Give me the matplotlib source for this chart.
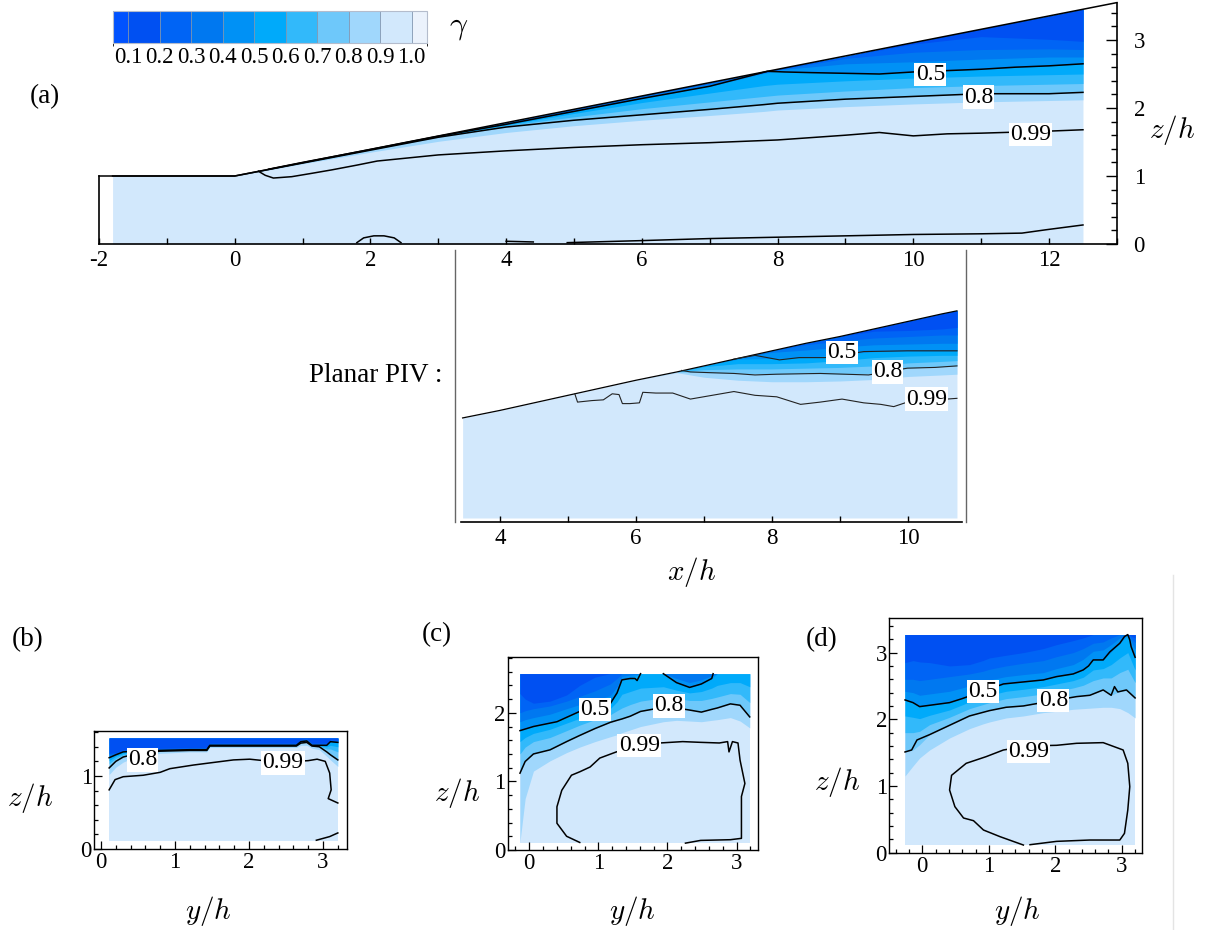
import numpy as np
import matplotlib
matplotlib.use("Agg")
import matplotlib.pyplot as plt
from matplotlib.colors import ListedColormap, BoundaryNorm
from matplotlib.cm import ScalarMappable
from matplotlib.ticker import MultipleLocator
from matplotlib.lines import Line2D

plt.rcParams['font.family'] = ['Liberation Serif', 'DejaVu Serif']
plt.rcParams['mathtext.fontset'] = 'cm'
plt.rcParams['axes.unicode_minus'] = False

W, H = 1205, 930

# colour scale of gamma
LEVELS = [0.05, 0.1, 0.2, 0.3, 0.4, 0.5, 0.6, 0.7, 0.8, 0.9, 1.0, 1.05]
COLORS = ['#0052ff', '#0050f2', '#0064f5', '#0078f0', '#0091f5', '#00aafa',
          '#32b9fa', '#6ec8fa', '#a0d7fc', '#d2e8fc', '#ebf2fc']
CB_TICKS = [0.1, 0.2, 0.3, 0.4, 0.5, 0.6, 0.7, 0.8, 0.9, 1.0]

# ---- panel (a): centre plane, heights of the gamma = 0.2 ... 0.9 isolines
A_X = [-1.8, 0.0, 0.5, 1.0, 2.0, 3.0, 4.0, 5.0, 6.0, 7.0, 7.8, 8.0, 9.0, 10.0, 11.0, 12.0, 12.5]
A_TOP = [1.00, 1.00, 1.10, 1.20, 1.39, 1.59, 1.78, 1.98, 2.18, 2.37, 2.53, 2.57, 2.76, 2.96, 3.16, 3.35, 3.45]
A_G20 = [1.00, 1.00, 1.10, 1.20, 1.39, 1.59, 1.78, 1.98, 2.18, 2.37, 2.53, 2.57, 2.76, 2.94, 3.05, 3.01, 2.98]
A_G30 = [1.00, 1.00, 1.10, 1.20, 1.39, 1.59, 1.77, 1.97, 2.17, 2.36, 2.52, 2.56, 2.73, 2.82, 2.86, 2.87, 2.86]
A_G40 = [1.00, 1.00, 1.10, 1.20, 1.39, 1.59, 1.765, 1.96, 2.16, 2.35, 2.52, 2.56, 2.65, 2.68, 2.72, 2.75, 2.75]
A_G50 = [1.00, 1.00, 1.10, 1.20, 1.39, 1.585, 1.76, 1.95, 2.14, 2.32, 2.51, 2.54, 2.51, 2.53, 2.57, 2.62, 2.65]
A_G60 = [1.00, 1.00, 1.10, 1.20, 1.39, 1.58, 1.75, 1.92, 2.08, 2.22, 2.33, 2.35, 2.40, 2.44, 2.47, 2.49, 2.50]
A_G70 = [1.00, 1.00, 1.10, 1.20, 1.385, 1.575, 1.74, 1.87, 1.99, 2.09, 2.17, 2.19, 2.25, 2.30, 2.33, 2.35, 2.36]
A_G80 = [1.00, 1.00, 1.095, 1.19, 1.38, 1.57, 1.72, 1.82, 1.90, 1.98, 2.05, 2.07, 2.13, 2.17, 2.21, 2.21, 2.23]
A_G90 = [1.00, 1.00, 1.09, 1.18, 1.35, 1.51, 1.64, 1.74, 1.82, 1.89, 1.95, 1.97, 2.02, 2.06, 2.09, 2.11, 2.12]
A_SURF_X = [-2.0, 0.0, 13.0]
A_SURF_Z = [1.0, 1.0, 3.55]
A05_X = [0.5, 1.0, 2.0, 3.0, 4.0, 5.0, 6.0, 7.0, 7.7, 7.85, 8.1, 8.5, 9.0, 9.5, 10.0, 10.5, 11.0, 11.5, 12.0, 12.5]
A05_Z = [1.10, 1.20, 1.39, 1.585, 1.76, 1.95, 2.14, 2.32, 2.50, 2.54, 2.53, 2.52, 2.51, 2.50, 2.53, 2.55, 2.57, 2.60, 2.62, 2.65]
A99_X = [0.35, 0.45, 0.57, 0.84, 1.14, 1.43, 1.8, 2.1, 3.0, 4.0, 5.0, 6.0, 7.0, 8.0, 9.0, 9.5, 10.0, 10.5, 11.0, 12.0, 12.5]
A99_Z = [1.07, 1.01, 0.97, 0.99, 1.04, 1.09, 1.16, 1.22, 1.31, 1.37, 1.42, 1.46, 1.49, 1.53, 1.60, 1.64, 1.59, 1.62, 1.63, 1.66, 1.68]
AB1_X = [1.8, 1.9, 2.05, 2.2, 2.35, 2.45]
AB1_Z = [0.02, 0.09, 0.12, 0.12, 0.09, 0.02]
AB2_X = [4.0, 4.4]
AB2_Z = [0.04, 0.03]
AB3_X = [4.9, 6.0, 7.0, 8.0, 9.0, 9.5, 10.0, 11.0, 11.6, 11.96, 12.5]
AB3_Z = [0.02, 0.05, 0.08, 0.10, 0.12, 0.13, 0.14, 0.15, 0.16, 0.21, 0.28]
A_TAGS = [(10.25, 2.49, '0.5'), (10.96, 2.16, '0.8'), (11.73, 1.61, '0.99')]

# ---- planar PIV
P_X = [3.45, 4.0, 5.0, 6.0, 6.6, 7.0, 7.5, 8.0, 8.5, 9.0, 9.5, 10.0, 10.5, 10.72]
P_TOP = [1.68, 1.78, 1.98, 2.18, 2.29, 2.37, 2.47, 2.57, 2.67, 2.76, 2.86, 2.96, 3.06, 3.10]
P_G20 = [1.68, 1.78, 1.98, 2.18, 2.29, 2.37, 2.47, 2.57, 2.67, 2.76, 2.83, 2.84, 2.86, 2.88]
P_G30 = [1.68, 1.78, 1.98, 2.18, 2.29, 2.37, 2.47, 2.57, 2.65, 2.70, 2.74, 2.76, 2.78, 2.78]
P_G40 = [1.68, 1.78, 1.98, 2.18, 2.29, 2.37, 2.47, 2.55, 2.58, 2.62, 2.65, 2.66, 2.67, 2.67]
P_G50 = [1.68, 1.78, 1.98, 2.18, 2.29, 2.37, 2.46, 2.47, 2.48, 2.52, 2.56, 2.57, 2.57, 2.57]
P_G60 = [1.68, 1.78, 1.98, 2.18, 2.29, 2.36, 2.40, 2.40, 2.41, 2.44, 2.48, 2.50, 2.51, 2.51]
P_G70 = [1.68, 1.78, 1.98, 2.18, 2.29, 2.32, 2.33, 2.33, 2.34, 2.35, 2.37, 2.41, 2.43, 2.44]
P_G80 = [1.68, 1.78, 1.98, 2.18, 2.29, 2.28, 2.27, 2.26, 2.27, 2.26, 2.26, 2.34, 2.36, 2.37]
P_G90 = [1.68, 1.78, 1.98, 2.18, 2.28, 2.22, 2.18, 2.16, 2.16, 2.17, 2.19, 2.23, 2.25, 2.26]
P05_X = [7.44, 7.75, 8.11, 8.40, 8.78, 9.35, 9.99, 10.72]
P05_Z = [2.46, 2.51, 2.45, 2.48, 2.48, 2.56, 2.57, 2.57]
P08_X = [6.67, 6.80, 7.10, 7.44, 7.75, 8.07, 8.71, 9.42, 9.99, 10.40, 10.72]
P08_Z = [2.31, 2.29, 2.28, 2.27, 2.25, 2.26, 2.27, 2.25, 2.34, 2.35, 2.37]
P99_X = [5.10, 5.14, 5.35, 5.52, 5.65, 5.75, 5.80, 5.91, 6.05, 6.10, 6.29, 6.54, 6.80, 7.12,
         7.44, 7.75, 8.07, 8.42, 8.71, 9.03, 9.35, 9.60, 9.79, 9.99, 10.72]
P99_Z = [2.00, 1.89, 1.91, 1.92, 2.00, 1.99, 1.87, 1.87, 1.88, 2.02, 2.01, 2.01, 1.93, 1.98,
         2.03, 1.98, 1.96, 1.86, 1.89, 1.93, 1.88, 1.86, 1.83, 1.89, 1.94]
P_TAGS = [(9.03, 2.545, '0.5'), (9.70, 2.29, '0.8'), (10.27, 1.93, '0.99')]

# ---- panel (b)
B_X = [0.11, 0.20, 0.30, 0.46, 0.80, 1.20, 1.43, 1.47, 2.00, 2.50, 2.64, 2.70, 2.78, 2.85, 2.95, 3.05, 3.10, 3.20]
B_G20 = [1.31, 1.32, 1.36, 1.37, 1.38, 1.39, 1.39, 1.45, 1.45, 1.45, 1.45, 1.50, 1.51, 1.45, 1.45, 1.45, 1.50, 1.49]
B_G30 = [1.29, 1.31, 1.35, 1.36, 1.37, 1.38, 1.38, 1.44, 1.44, 1.44, 1.44, 1.49, 1.50, 1.44, 1.44, 1.44, 1.49, 1.48]
B_G40 = [1.27, 1.30, 1.34, 1.35, 1.36, 1.37, 1.37, 1.43, 1.43, 1.43, 1.43, 1.48, 1.49, 1.43, 1.43, 1.43, 1.48, 1.47]
B_G50 = [1.25, 1.29, 1.33, 1.34, 1.35, 1.36, 1.36, 1.42, 1.42, 1.42, 1.42, 1.47, 1.48, 1.42, 1.42, 1.42, 1.47, 1.46]
B_G60 = [1.21, 1.27, 1.31, 1.33, 1.347, 1.357, 1.357, 1.418, 1.418, 1.418, 1.418, 1.465, 1.475, 1.418, 1.415, 1.40, 1.42, 1.40]
B_G70 = [1.17, 1.24, 1.29, 1.32, 1.345, 1.355, 1.355, 1.415, 1.415, 1.415, 1.415, 1.46, 1.47, 1.415, 1.41, 1.37, 1.37, 1.33]
B_G80 = [1.11, 1.20, 1.26, 1.30, 1.34, 1.35, 1.35, 1.41, 1.41, 1.41, 1.41, 1.45, 1.46, 1.41, 1.40, 1.33, 1.29, 1.22]
B_G90 = [1.02, 1.12, 1.19, 1.26, 1.31, 1.33, 1.33, 1.39, 1.39, 1.39, 1.39, 1.42, 1.42, 1.38, 1.36, 1.27, 1.22, 1.13]
B99_X = [0.11, 0.19, 0.30, 0.57, 0.80, 0.93, 1.25, 1.48, 1.79, 2.01, 2.20, 2.46, 2.80, 2.92, 3.03, 3.09, 3.11, 3.07, 3.20]
B99_Z = [0.81, 0.95, 0.99, 1.01, 1.05, 1.10, 1.15, 1.18, 1.22, 1.23, 1.21, 1.19, 1.21, 1.23, 1.20, 1.04, 0.81, 0.69, 0.63]
BB_X = [2.91, 3.09, 3.20]
BB_Z = [0.12, 0.17, 0.22]
B_TAGS = [(0.56, 1.22, '0.8'), (2.46, 1.18, '0.99')]

# ---- panel (c)
C_X = [-0.135, -0.06, 0.06, 0.30, 0.54, 0.73, 0.95, 1.17, 1.27, 1.34, 1.46, 1.61, 1.94, 2.13,
       2.32, 2.49, 2.64, 2.72, 2.91, 3.05, 3.19]
C_G20 = [2.28, 2.20, 2.14, 2.17, 2.26, 2.40, 2.52, 2.57, 2.57, 2.57, 2.57, 2.57, 2.57, 2.57,
         2.57, 2.57, 2.57, 2.57, 2.57, 2.57, 2.57]
C_G30 = [2.00, 2.03, 2.06, 2.10, 2.17, 2.24, 2.32, 2.42, 2.50, 2.57, 2.57, 2.57, 2.57, 2.57,
         2.57, 2.57, 2.57, 2.57, 2.57, 2.57, 2.57]
C_G40 = [1.87, 1.90, 1.93, 1.98, 2.06, 2.12, 2.18, 2.25, 2.38, 2.53, 2.55, 2.57, 2.57, 2.50,
         2.44, 2.48, 2.54, 2.57, 2.57, 2.57, 2.57]
C_G50 = [1.74, 1.77, 1.80, 1.86, 1.95, 2.02, 2.07, 2.13, 2.29, 2.48, 2.50, 2.57, 2.57, 2.44,
         2.37, 2.42, 2.50, 2.57, 2.57, 2.57, 2.57]
C_G60 = [1.58, 1.64, 1.70, 1.76, 1.85, 1.92, 1.99, 2.06, 2.16, 2.27, 2.31, 2.36, 2.38, 2.33,
         2.29, 2.31, 2.36, 2.40, 2.44, 2.44, 2.38]
C_G70 = [1.40, 1.50, 1.58, 1.64, 1.74, 1.82, 1.90, 1.97, 2.03, 2.07, 2.12, 2.17, 2.22, 2.21,
         2.18, 2.18, 2.21, 2.23, 2.28, 2.27, 2.15]
C_G80 = [1.12, 1.29, 1.40, 1.46, 1.58, 1.67, 1.77, 1.86, 1.89, 1.91, 1.95, 2.02, 2.08, 2.07,
         2.04, 2.01, 2.05, 2.07, 2.13, 2.11, 1.94]
C_G90 = [0.12, 0.75, 1.15, 1.30, 1.42, 1.50, 1.58, 1.65, 1.68, 1.71, 1.75, 1.80, 1.87, 1.89,
         1.88, 1.87, 1.89, 1.90, 1.93, 1.88, 1.78]
C05A_X = [-0.135, 0.06, 0.40, 0.73, 0.95, 1.17, 1.27, 1.34, 1.46, 1.53, 1.56, 1.61]
C05A_Z = [1.74, 1.80, 1.87, 2.02, 2.06, 2.13, 2.29, 2.48, 2.50, 2.50, 2.47, 2.57]
C05B_X = [1.94, 2.13, 2.32, 2.49, 2.64, 2.66]
C05B_Z = [2.57, 2.44, 2.37, 2.42, 2.50, 2.57]
C99_X = [0.73, 0.54, 0.40, 0.40, 0.47, 0.61, 0.73, 0.88, 1.02, 1.26, 1.59, 1.89, 2.22, 2.46,
         2.75, 2.87, 2.89, 2.94, 3.02, 3.05, 3.12, 3.07, 3.07, 2.91, 2.48, 2.26]
C99_Z = [0.11, 0.20, 0.39, 0.63, 0.87, 1.09, 1.14, 1.21, 1.34, 1.43, 1.52, 1.56, 1.58, 1.57,
         1.56, 1.58, 1.43, 1.58, 1.56, 1.31, 0.97, 0.78, 0.17, 0.15, 0.14, 0.10]
C_TAGS = [(0.95, 2.05, '0.5'), (2.02, 2.10, '0.8'), (1.59, 1.52, '0.99')]

# ---- panel (d)
D_X = [-0.26, -0.14, -0.04, 0.11, 0.41, 0.71, 0.91, 1.01, 1.26, 1.52, 1.82, 2.02, 2.27, 2.42,
       2.57, 2.72, 2.84, 2.97, 3.09, 3.20]
D_G20 = [2.85, 2.88, 2.86, 2.85, 2.80, 2.82, 2.88, 2.92, 2.96, 3.00, 3.06, 3.12, 3.18, 3.22,
         3.27, 3.27, 3.27, 3.27, 3.27, 3.22]
D_G30 = [2.60, 2.60, 2.58, 2.60, 2.64, 2.68, 2.72, 2.75, 2.80, 2.84, 2.88, 2.94, 3.00, 3.06,
         3.14, 3.16, 3.22, 3.27, 3.27, 3.15]
D_G40 = [2.42, 2.40, 2.36, 2.38, 2.42, 2.50, 2.55, 2.59, 2.64, 2.67, 2.70, 2.76, 2.82, 2.90,
         3.02, 3.04, 3.12, 3.22, 3.27, 3.05]
D_G50 = [2.29, 2.25, 2.19, 2.21, 2.25, 2.36, 2.42, 2.47, 2.53, 2.56, 2.59, 2.64, 2.68, 2.74,
         2.89, 2.89, 3.01, 3.14, 3.26, 2.93]
D_G60 = [2.05, 2.03, 2.01, 2.06, 2.14, 2.26, 2.32, 2.36, 2.42, 2.45, 2.49, 2.53, 2.58, 2.63,
         2.74, 2.76, 2.82, 2.92, 3.00, 2.74]
D_G70 = [1.80, 1.80, 1.82, 1.92, 2.03, 2.16, 2.22, 2.25, 2.31, 2.34, 2.38, 2.42, 2.47, 2.51,
         2.58, 2.62, 2.62, 2.70, 2.75, 2.55]
D_G80 = [1.51, 1.54, 1.62, 1.77, 1.91, 2.05, 2.11, 2.13, 2.18, 2.20, 2.25, 2.28, 2.34, 2.35,
         2.38, 2.44, 2.36, 2.42, 2.43, 2.32]
D_G90 = [1.15, 1.30, 1.42, 1.54, 1.72, 1.86, 1.93, 1.96, 2.02, 2.05, 2.10, 2.12, 2.15, 2.16,
         2.17, 2.18, 2.18, 2.16, 2.10, 2.02]
D05_X = [-0.26, -0.14, -0.04, 0.11, 0.41, 0.60, 0.91, 1.22, 1.52, 1.82, 2.02, 2.27, 2.42, 2.50,
         2.57, 2.72, 2.82, 2.97, 3.04, 3.09, 3.12, 3.14, 3.20]
D05_Z = [2.29, 2.25, 2.19, 2.21, 2.25, 2.31, 2.42, 2.53, 2.56, 2.59, 2.64, 2.68, 2.74, 2.80,
         2.89, 2.89, 3.01, 3.14, 3.24, 3.27, 3.19, 3.09, 2.93]
D08_X = [-0.26, -0.16, -0.08, 0.11, 0.41, 0.71, 1.01, 1.26, 1.52, 1.97, 2.32, 2.52, 2.72, 2.84,
         2.89, 2.94, 3.07, 3.20]
D08_Z = [1.51, 1.54, 1.69, 1.77, 1.91, 2.05, 2.13, 2.18, 2.20, 2.28, 2.34, 2.36, 2.44, 2.36,
         2.49, 2.41, 2.44, 2.32]
D99_X = [1.52, 1.17, 0.92, 0.77, 0.62, 0.49, 0.41, 0.44, 0.66, 0.96, 1.22, 1.60, 2.02, 2.32,
         2.72, 3.02, 3.09, 3.12, 3.09, 3.04, 2.97, 2.52, 2.02, 1.62]
D99_Z = [0.115, 0.24, 0.34, 0.48, 0.52, 0.69, 0.94, 1.16, 1.34, 1.44, 1.54, 1.60, 1.61, 1.64,
         1.65, 1.54, 1.34, 0.99, 0.64, 0.29, 0.19, 0.19, 0.17, 0.12]
D_TAGS = [(0.91, 2.42, '0.5'), (1.97, 2.28, '0.8'), (1.60, 1.52, '0.99')]

TICK_FS = 16.5
TAG_FS = 17
LETTER_FS = 19.5
LABEL_FS = 21


def px_axes(fig, left, top, right, bottom):
    return fig.add_axes([left / W, 1 - bottom / H, (right - left) / W, (bottom - top) / H])


def bands(ax, x, top, base, rows):
    # rows hold the heights of gamma = 0.2, 0.3, ..., 0.9 (top to bottom)
    x = np.asarray(x, float)
    top = np.broadcast_to(np.asarray(top, float), x.shape)
    ax.fill_between(x, base, top, color=COLORS[9], lw=0)
    for k in range(len(rows) - 1, -1, -1):
        z = np.minimum(np.asarray(rows[k], float), top)
        ax.fill_between(x, z, top, color=COLORS[k + 1], lw=0)


def iso(ax, x, z, lw=1.1, color='k'):
    ax.plot(x, z, color=color, lw=lw, solid_joinstyle='round')


def tags(ax, items, size=TAG_FS):
    for x, z, s in items:
        ax.text(x, z, s, ha='center', va='center', fontsize=size, zorder=5,
                bbox=dict(boxstyle='square,pad=0.05', fc='white', ec='none'))


def ftext(fig, x, y, s, size, **kw):
    fig.text(x / W, 1 - y / H, s, ha=kw.pop('ha', 'center'), va='center', fontsize=size, **kw)


def small_panel(fig, box, xlim, ylim, yticks):
    ax = px_axes(fig, *box)
    ax.set_xlim(*xlim)
    ax.set_ylim(*ylim)
    for s in ax.spines.values():
        s.set_linewidth(1.0)
    ax.set_xticks([0, 1, 2, 3])
    ax.set_yticks(yticks)
    ax.xaxis.set_minor_locator(MultipleLocator(0.2))
    ax.yaxis.set_minor_locator(MultipleLocator(0.2))
    ax.tick_params(which='both', direction='in', width=0.9, labelsize=TICK_FS)
    ax.tick_params(which='major', length=6)
    ax.tick_params(which='minor', length=3)
    ax.tick_params(axis='x', pad=2.5)
    ax.tick_params(axis='y', pad=1.5)
    return ax


fig = plt.figure(figsize=(W / 100, H / 100), dpi=100)

# ---------------- panel (a)
ax = px_axes(fig, 99, 2.6, 1116.9, 244)
ax.patch.set_visible(False)
ax.set_xlim(-2, 13)
ax.set_ylim(0, 3.55)
bands(ax, A_X, A_TOP, 0.0,
      [A_G20, A_G30, A_G40, A_G50, A_G60, A_G70, A_G80, A_G90])
ax.plot(A_SURF_X, A_SURF_Z, color='k', lw=1.1, clip_on=False)
iso(ax, A05_X, A05_Z)
iso(ax, A_X, A_G80)
iso(ax, A99_X, A99_Z)
iso(ax, AB1_X, AB1_Z)
iso(ax, AB2_X, AB2_Z)
iso(ax, AB3_X, AB3_Z)
tags(ax, A_TAGS)
ax.spines['top'].set_visible(False)
ax.spines['left'].set_bounds(0, 1)
for s in ax.spines.values():
    s.set_linewidth(1.2)
ax.yaxis.tick_right()
ax.set_xticks(range(-2, 13, 2))
ax.xaxis.set_minor_locator(MultipleLocator(1))
ax.set_yticks([0, 1, 2, 3])
ax.yaxis.set_minor_locator(MultipleLocator(0.2))
ax.tick_params(axis='x', which='both', direction='in', length=4, width=1, labelsize=TICK_FS, pad=4)
ax.tick_params(axis='y', which='major', direction='in', length=8, width=1, labelsize=TICK_FS, pad=12)
ax.tick_params(axis='y', which='minor', direction='in', length=4, width=1)

# ---------------- planar PIV
axp = px_axes(fig, 455, 250, 966, 522)
axp.patch.set_visible(False)
axp.set_xlim(3.338, 10.853)
axp.set_ylim(0.30, 3.907)
bands(axp, P_X, P_TOP, 0.353,
      [P_G20, P_G30, P_G40, P_G50, P_G60, P_G70, P_G80, P_G90])
axp.plot(P_X, P_TOP, color='k', lw=0.9)
iso(axp, P05_X, P05_Z, lw=0.8, color='#222222')
iso(axp, P08_X, P08_Z, lw=0.8, color='#222222')
iso(axp, P99_X, P99_Z, lw=0.8, color='#222222')
tags(axp, P_TAGS)
axp.spines['top'].set_visible(False)
for side in ('left', 'right'):
    axp.spines[side].set_color('#666666')
    axp.spines[side].set_linewidth(1.0)
axp.spines['bottom'].set_linewidth(1.2)
axp.spines['bottom'].set_bounds(3.43, 10.8)
axp.set_yticks([])
axp.set_xticks([4, 6, 8, 10])
axp.xaxis.set_minor_locator(MultipleLocator(1))
axp.tick_params(axis='x', which='both', direction='in', length=4, width=1, labelsize=TICK_FS, pad=4)

# ---------------- panel (b)
axb = small_panel(fig, (94, 731, 347, 849), (-0.0946, 3.324), (0, 1.616), [0, 1])
bands(axb, B_X, 1.52, 0.11,
      [B_G20, B_G30, B_G40, B_G50, B_G60, B_G70, B_G80, B_G90])
iso(axb, B_X, B_G50)
iso(axb, B_X, B_G80)
iso(axb, B99_X, B99_Z)
iso(axb, BB_X, BB_Z)
tags(axb, B_TAGS)

# ---------------- panel (c)
axc = small_panel(fig, (507.7, 657.3, 757.7, 850), (-0.3126, 3.3054), (0, 2.809), [0, 1, 2])
bands(axc, C_X, 2.57, 0.10,
      [C_G20, C_G30, C_G40, C_G50, C_G60, C_G70, C_G80, C_G90])
iso(axc, C05A_X, C05A_Z)
iso(axc, C05B_X, C05B_Z)
iso(axc, C_X, C_G80)
iso(axc, C99_X, C99_Z)
tags(axc, C_TAGS)

# ---------------- panel (d)
axd = small_panel(fig, (889, 618.3, 1142.3, 852.7), (-0.5008, 3.3083), (0, 3.514), [0, 1, 2, 3])
bands(axd, D_X, 3.27, 0.115,
      [D_G20, D_G30, D_G40, D_G50, D_G60, D_G70, D_G80, D_G90])
iso(axd, D05_X, D05_Z)
iso(axd, D08_X, D08_Z)
iso(axd, D99_X, D99_Z)
tags(axd, D_TAGS)

# ---------------- colour bar
cax = px_axes(fig, 112.6, 11, 427.3, 42.7)
norm = BoundaryNorm(LEVELS, len(COLORS))
cb = fig.colorbar(ScalarMappable(norm=norm, cmap=ListedColormap(COLORS)), cax=cax,
                  orientation='horizontal', spacing='proportional', ticks=CB_TICKS,
                  drawedges=True)
cb.outline.set_edgecolor('#b4bccc')
cb.outline.set_linewidth(0.8)
cb.dividers.set_color('#7f95b0')
cb.dividers.set_linewidth(0.6)
cb.set_ticklabels([f'{t:.1f}' for t in CB_TICKS])
cb.ax.tick_params(length=0, labelsize=16.5, pad=3)

# ---------------- texts
ftext(fig, 459, 27, r'$\gamma$', 23)
ftext(fig, 45, 97, '(a)', LETTER_FS)
ftext(fig, 1172, 130, r'$z/h$', LABEL_FS)
ftext(fig, 309, 376, 'Planar PIV :', LETTER_FS, ha='left')
ftext(fig, 692, 572, r'$x/h$', LABEL_FS)
ftext(fig, 28, 640, '(b)', LETTER_FS)
ftext(fig, 30, 798, r'$z/h$', LABEL_FS)
ftext(fig, 208, 911, r'$y/h$', LABEL_FS)
ftext(fig, 437, 635, '(c)', LETTER_FS)
ftext(fig, 457, 793, r'$z/h$', LABEL_FS)
ftext(fig, 632, 911, r'$y/h$', LABEL_FS)
ftext(fig, 822, 640, '(d)', LETTER_FS)
ftext(fig, 837, 782, r'$z/h$', LABEL_FS)
ftext(fig, 1017, 911, r'$y/h$', LABEL_FS)

fig.add_artist(Line2D([1173 / W, 1173 / W], [1 - 575 / H, 0.0], color='#e4e4e4', lw=1))

fig.savefig('out.png', dpi=100)
